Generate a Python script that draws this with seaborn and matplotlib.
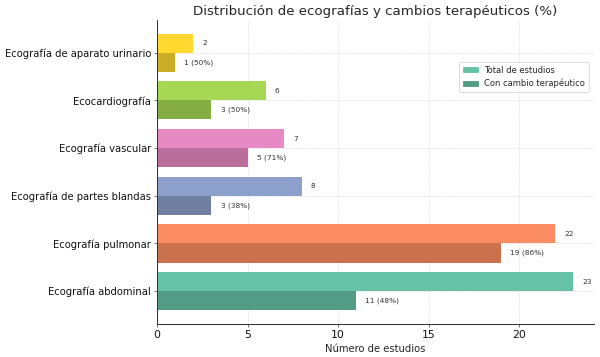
import matplotlib
matplotlib.use("Agg")
import matplotlib.pyplot as plt
import matplotlib.patches as mpatches
import matplotlib.colors as mcolors
import seaborn as sns
import pandas as pd

categories = [
    "Ecografía de aparato urinario",
    "Ecocardiografía",
    "Ecografía vascular",
    "Ecografía de partes blandas",
    "Ecografía pulmonar",
    "Ecografía abdominal",
]
total = [2, 6, 7, 8, 22, 23]
cambio = [1, 3, 5, 3, 19, 11]
pct = [50, 50, 71, 38, 86, 48]
series = ["Total de estudios", "Con cambio terapéutico"]

base_colors = ["#ffd92f", "#a6d854", "#e78ac3", "#8da0cb", "#fc8d62", "#66c2a5"]

def darker(c, f=0.8):
    r, g, b = mcolors.to_rgb(c)
    return (r * f, g * f, b * f)

df = pd.DataFrame({
    "Categoría": categories * 2,
    "Valor": total + cambio,
    "Serie": [series[0]] * len(categories) + [series[1]] * len(categories),
})

sns.set_style("whitegrid", {"grid.linestyle": ":", "grid.color": "#cccccc"})
plt.rcParams["font.family"] = ["DejaVu Sans"]

fig = plt.figure(figsize=(10, 5.95), dpi=60)
ax = fig.add_axes([0.262, 0.0924, 0.728, 0.852])

sns.barplot(data=df, y="Categoría", x="Valor", hue="Serie", hue_order=series,
            order=categories, orient="h", saturation=1, linewidth=0,
            legend=False, ax=ax)

for i, bar in enumerate(ax.containers[0]):
    bar.set_facecolor(base_colors[i])
for i, bar in enumerate(ax.containers[1]):
    bar.set_facecolor(darker(base_colors[i]))

for i, bar in enumerate(ax.containers[0]):
    ax.text(bar.get_width() + 0.5, bar.get_y() + bar.get_height() / 2,
            f"{total[i]}", va="center", ha="left", fontsize=8.8, color="#333333")
for i, bar in enumerate(ax.containers[1]):
    ax.text(bar.get_width() + 0.5, bar.get_y() + bar.get_height() / 2,
            f"{cambio[i]} ({pct[i]}%)", va="center", ha="left", fontsize=8.8,
            color="#333333")

ax.set_xlim(0, 24.15)
ax.set_ylim(5.69, -0.69)
ax.set_xlabel("Número de estudios", fontsize=12)
ax.set_ylabel("")
ax.set_title("Distribución de ecografías y cambios terapéuticos (%)", fontsize=16)
ax.tick_params(axis="y", labelsize=12, length=4, color="#333333", labelcolor="#111111")
ax.tick_params(axis="x", labelsize=13, length=4, color="#333333", labelcolor="#111111")
ax.tick_params(axis="both", which="both", left=True, bottom=True)
for s in ["top", "right"]:
    ax.spines[s].set_visible(False)
for s in ["left", "bottom"]:
    ax.spines[s].set_color("#333333")
    ax.spines[s].set_linewidth(1.2)
ax.grid(True, linestyle=":", color="#c8c8c8")

handles = [mpatches.Patch(color=base_colors[5], label=series[0]),
           mpatches.Patch(color=darker(base_colors[5]), label=series[1])]
ax.legend(handles=handles, loc="upper right", bbox_to_anchor=(0.997, 0.874),
          fontsize=10, frameon=True, handlelength=1.8, handleheight=0.6)

fig.savefig("out.png", dpi=60)
